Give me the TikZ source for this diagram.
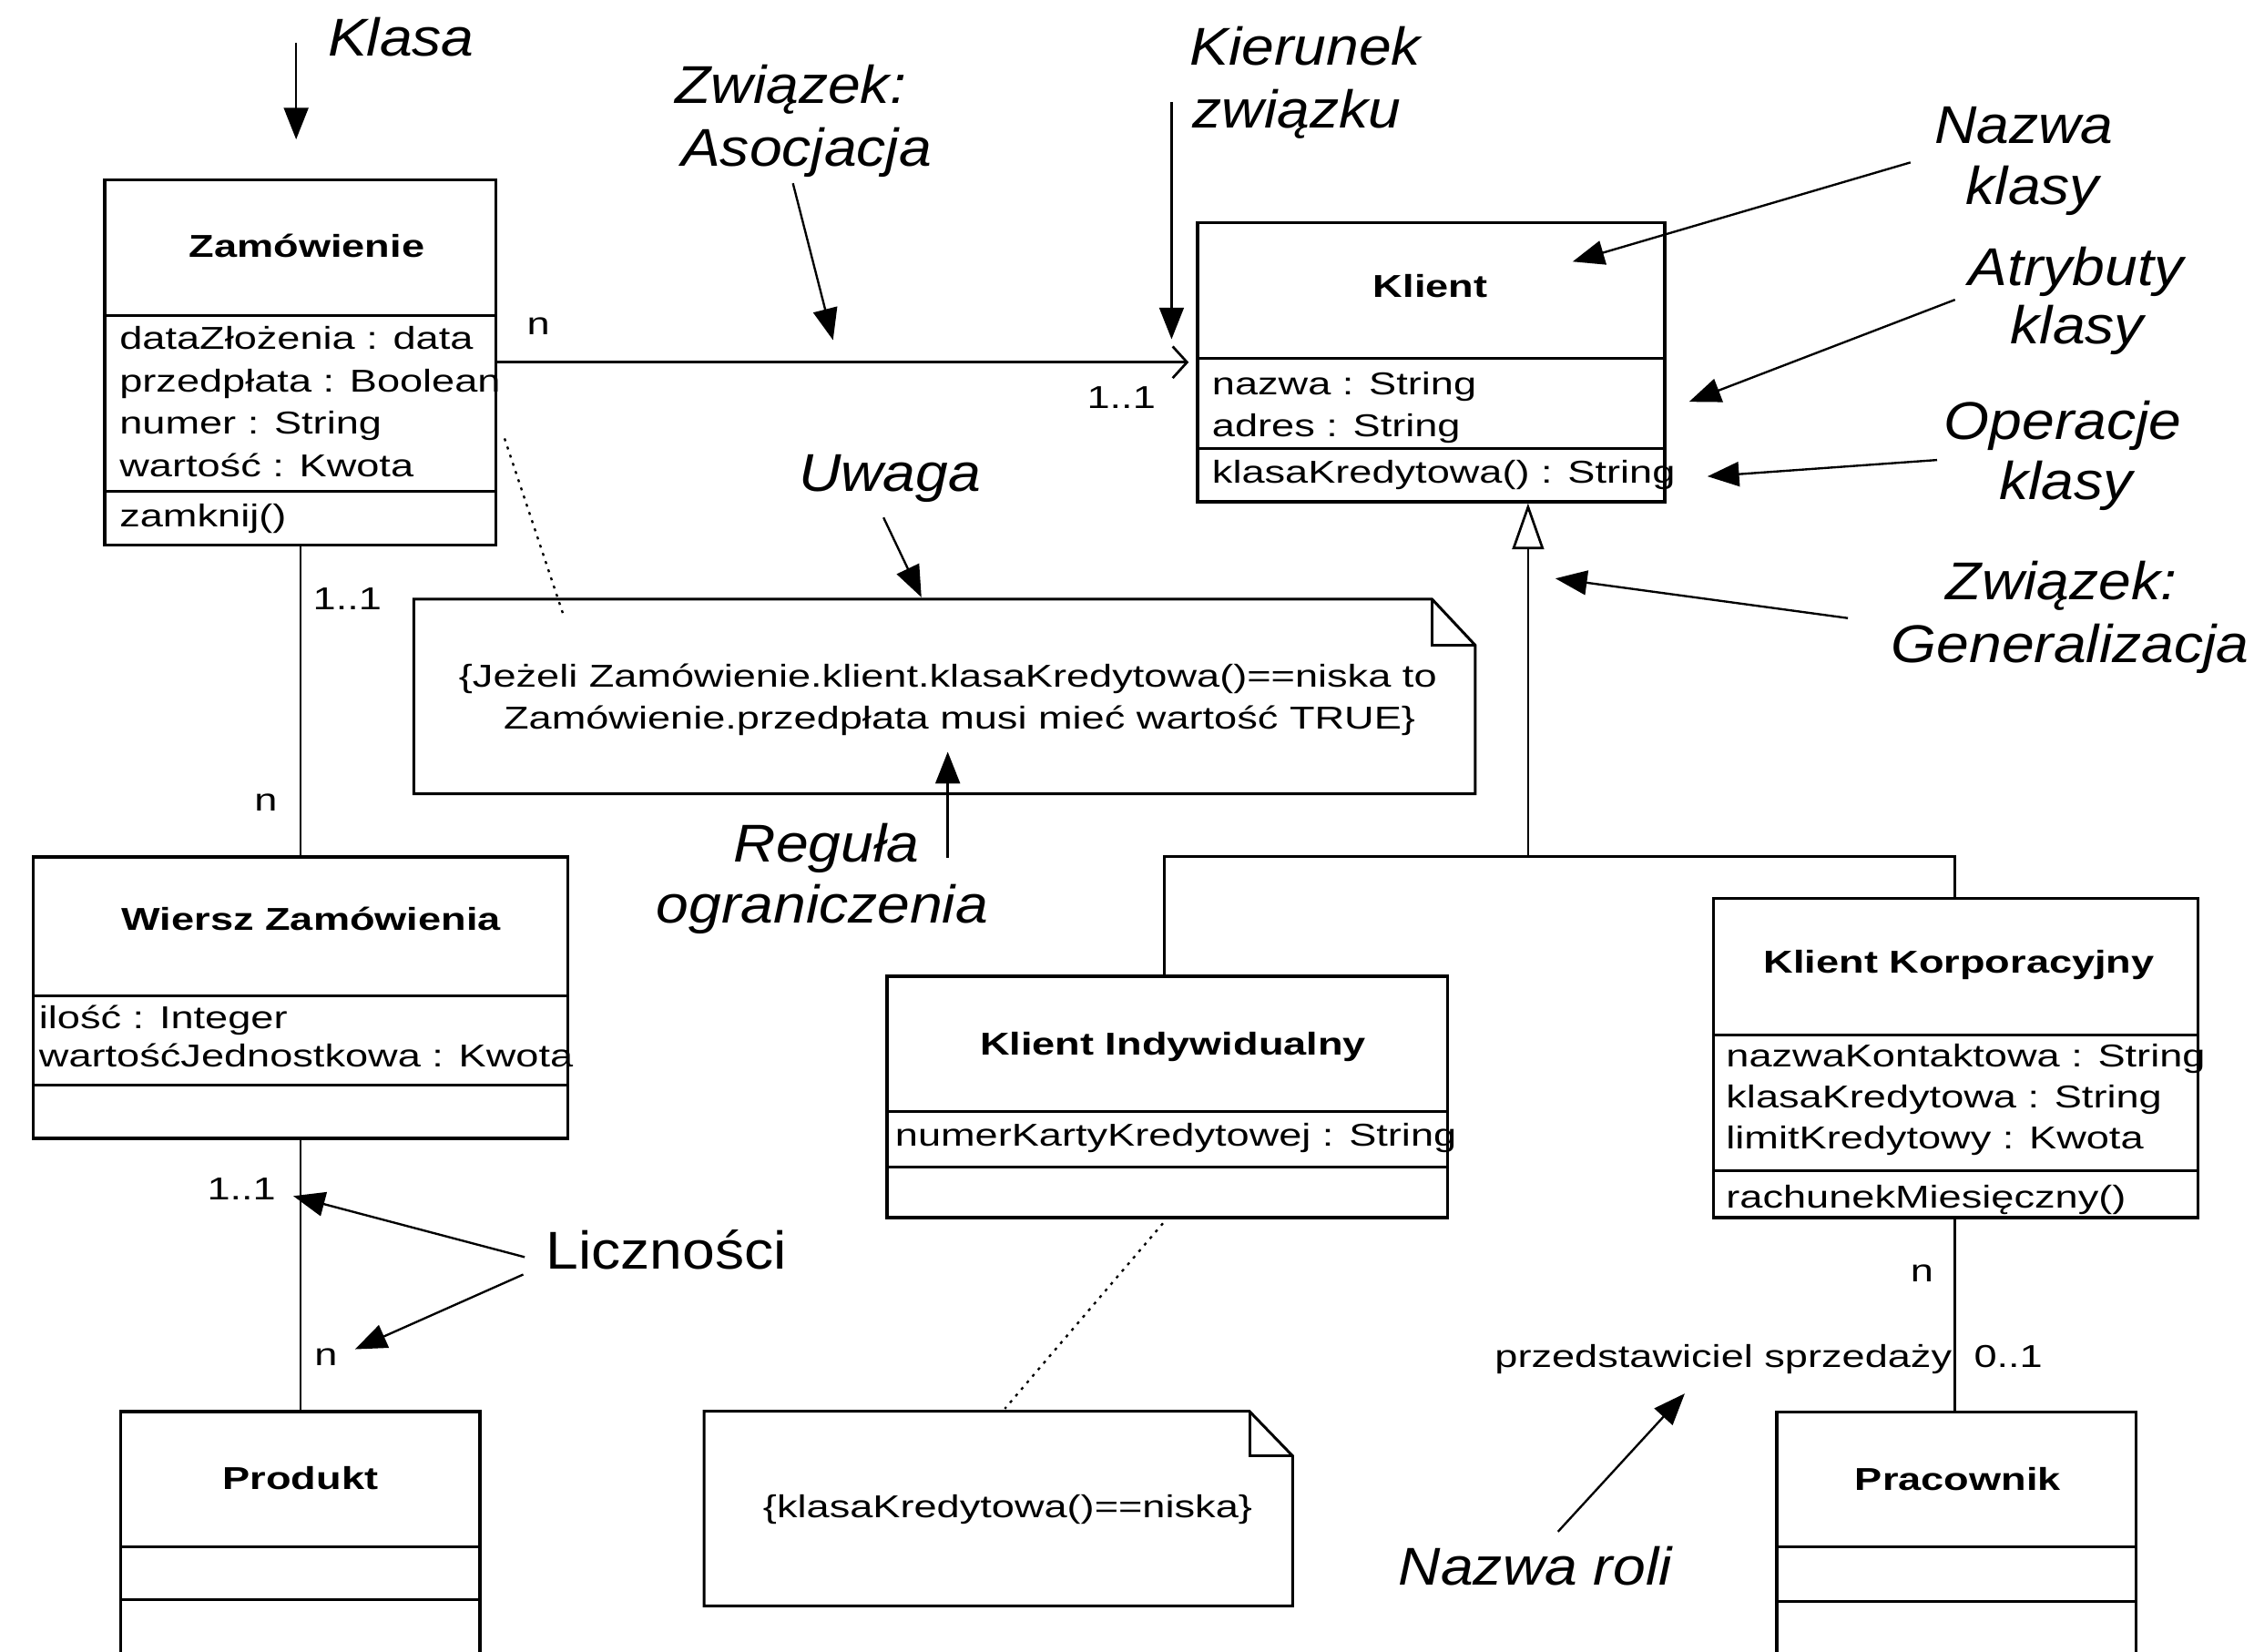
\documentclass[tikz,border=0pt]{standalone}
\usepackage{fontspec}
\setmainfont{Liberation Sans}
\newfontfamily\smallfam[FakeStretch=1.3]{Liberation Sans}
\newfontfamily\annfam[FakeStretch=1.1]{Liberation Sans}
\newcommand{\attrfont}{\smallfam\fontsize{22}{29.5}\selectfont}
\newcommand{\namefont}{\smallfam\bfseries\fontsize{22}{29.5}\selectfont}
\newcommand{\annfont}{\annfam\itshape\fontsize{37}{44}\selectfont}
\newcommand{\liczfont}{\annfam\fontsize{37}{44}\selectfont}
\usetikzlibrary{arrows.meta}
\tikzset{
  umlbox/.style={draw, line width=2.2pt, inner sep=0pt},
  sepline/.style={line width=1.9pt},
  attr/.style={anchor=base west, inner sep=0pt, font=\attrfont},
  cname/.style={anchor=base, inner sep=0pt, font=\namefont},
  mult/.style={anchor=base, inner sep=0pt, font=\attrfont},
  ann/.style={anchor=base, inner sep=0pt, font=\annfont},
  plain/.style={line width=1.7pt},
  assoc/.style={line width=1.7pt, -{Straight Barb[length=10pt,width=22pt]}, shorten >=5pt},
  gen/.style={line width=1.7pt, -{Triangle[length=32pt,width=22pt,fill=white]}},
  annarrow/.style={line width=1.5pt, -{Triangle[length=22pt,width=17pt]}},
  notedot/.style={line width=1.5pt, dash pattern=on 2pt off 4pt},
  notebox/.style={inner sep=0pt},
  noteline/.style={line width=1.9pt},
}
\begin{document}
\begin{tikzpicture}[x=1pt,y=-1pt]
\clip (0,0) rectangle (1568,1149);
\fill[white] (0,0) rectangle (1568,1149);

% ---------- Zamowienie ----------
\node[umlbox, minimum width=272pt, minimum height=254pt] (zam) at (209,252) {};
\draw[sepline] (73,219.5) -- (345,219.5);
\draw[sepline] (73,341.5) -- (345,341.5);
\node[cname] (zamN) at (213.5,179) {Zamówienie};
\node[attr] (zamA1) at (83,243) {dataZłożenia : data};
\node[attr] (zamA2) at (83,272.5) {przedpłata : Boolean};
\node[attr] (zamA3) at (83,302) {numer : String};
\node[attr] (zamA4) at (83,331.5) {wartość : Kwota};
\node[attr] (zamO1) at (83,366.5) {zamknij()};

% ---------- Klient ----------
\node[umlbox, minimum width=325pt, minimum height=194pt] (kli) at (995.5,252) {};
\draw[sepline] (833,249.6) -- (1158,249.6);
\draw[sepline] (833,311.8) -- (1158,311.8);
\node[cname] (kliN) at (995,207) {Klient};
\node[attr] (kliA1) at (843,274.8) {nazwa : String};
\node[attr] (kliA2) at (843,304) {adres : String};
\node[attr] (kliO1) at (843,336) {klasaKredytowa() : String};

% ---------- Wiersz Zamowienia ----------
\node[umlbox, minimum width=372pt, minimum height=196pt] (wz) at (209,694) {};
\draw[sepline] (23,692.6) -- (395,692.6);
\draw[sepline] (23,755) -- (395,755);
\node[cname] (wzN) at (216.5,647.4) {Wiersz Zamówienia};
\node[attr] (wzA1) at (27,715.4) {ilość : Integer};
\node[attr] (wzA2) at (27,742) {wartośćJednostkowa : Kwota};

% ---------- Produkt ----------
\node[umlbox, minimum width=250pt, minimum height=180pt] (prod) at (209,1072) {};
\draw[sepline] (84,1076) -- (334,1076);
\draw[sepline] (84,1113) -- (334,1113);
\node[cname] (prodN) at (209,1036.4) {Produkt};

% ---------- Klient Indywidualny ----------
\node[umlbox, minimum width=390pt, minimum height=168pt] (ki) at (812,763) {};
\draw[sepline] (617,773) -- (1007,773);
\draw[sepline] (617,812) -- (1007,812);
\node[cname] (kiN) at (816,734) {Klient Indywidualny};
\node[attr] (kiA1) at (622.5,797.4) {numerKartyKredytowej : String};

% ---------- Klient Korporacyjny ----------
\node[umlbox, minimum width=337pt, minimum height=222pt] (kk) at (1360.5,736) {};
\draw[sepline] (1192,720) -- (1529,720);
\draw[sepline] (1192,814.5) -- (1529,814.5);
\node[cname] (kkN) at (1362.8,676.7) {Klient Korporacyjny};
\node[attr] (kkA1) at (1200.6,742) {nazwaKontaktowa : String};
\node[attr] (kkA2) at (1200.6,770.8) {klasaKredytowa : String};
\node[attr] (kkA3) at (1200.6,799.5) {limitKredytowy : Kwota};
\node[attr] (kkO1) at (1200.6,840.4) {rachunekMiesięczny()};

% ---------- Pracownik ----------
\node[umlbox, minimum width=250pt, minimum height=180pt] (prac) at (1361,1072.4) {};
\draw[sepline] (1236,1076) -- (1486,1076);
\draw[sepline] (1236,1114) -- (1486,1114);
\node[cname] (pracN) at (1362,1037) {Pracownik};

% ---------- Note 1 ----------
\node[notebox, minimum width=738pt, minimum height=135pt] (note1) at (657,484.5) {};
\draw[noteline] (note1.north west) -- ([xshift=-30pt]note1.north east)
  -- ([yshift=-32pt]note1.north east) -- (note1.south east) -- (note1.south west) -- cycle;
\draw[noteline] ([xshift=-30pt]note1.north east) -- ([xshift=-30pt,yshift=-32pt]note1.north east)
  -- ([yshift=-32pt]note1.north east);
\node[mult] (note1L1) at (659.4,477.7) {\{Jeżeli Zamówienie.klient.klasaKredytowa()==niska to};
\node[mult] (note1L2) at (667.5,507.4) {Zamówienie.przedpłata musi mieć wartość TRUE\}};

% ---------- Note 2 ----------
\node[notebox, minimum width=409pt, minimum height=135pt] (note2) at (694.5,1049.5) {};
\draw[noteline] (note2.north west) -- ([xshift=-30pt]note2.north east)
  -- ([yshift=-31pt]note2.north east) -- (note2.south east) -- (note2.south west) -- cycle;
\draw[noteline] ([xshift=-30pt]note2.north east) -- ([xshift=-30pt,yshift=-31pt]note2.north east)
  -- ([yshift=-31pt]note2.north east);
\node[mult] (note2L1) at (701,1056) {\{klasaKredytowa()==niska\}};

% ---------- Association Zamowienie -> Klient ----------
\draw[assoc] (zam.east) -- (kli.west);
\node[mult] (mAs1) at (374.6,232.7) {n};
\node[mult] (mAs2) at (780,284) {1..1};

% ---------- Zamowienie - Wiersz - Produkt ----------
\draw[plain] (zam.south) -- (wz.north);
\node[mult] (mZW1) at (241.6,424) {1..1};
\node[mult] (mZW2) at (185,564) {n};
\draw[plain] (wz.south) -- (prod.north);
\node[mult] (mWP1) at (168,834.5) {1..1};
\node[mult] (mWP2) at (226.7,950) {n};

% ---------- Generalization ----------
\coordinate (gj) at (1063,596);
\coordinate (gL) at (810,596);
\coordinate (gR) at (1360,596);
\draw[plain] (ki.north -| gL) -- (gL) -- (gR) -- (kk.north -| gR);
\draw[gen] (gj) -- (kli.south -| gj);

% ---------- Klient Korporacyjny - Pracownik ----------
\draw[plain] (kk.south -| gR) -- (prac.north -| gR);
\node[mult] (mKP1) at (1337,891.5) {n};
\node[mult, anchor=base east] (role) at (1358,951) {przedstawiciel sprzedaży};
\node[mult, anchor=base west] (mKP2) at (1373,951) {0..1};

% ---------- Note links ----------
\coordinate (d1a) at (351,305);
\coordinate (d1b) at (392,428);
\draw[notedot] (d1a) -- (d1b);
\coordinate (d2a) at (809,851);
\coordinate (d2b) at (699,980);
\draw[notedot] (d2a) -- (d2b);

% ---------- Annotations ----------
\node[ann] (tKlasa) at (279,39) {Klasa};
\coordinate (aK1) at (206,30); \coordinate (aK2) at (206,97);
\draw[annarrow] (aK1) -- (aK2);

\node[ann] (tZw1) at (550,72) {Związek:};
\node[ann] (tZw2) at (561,115.7) {Asocjacja};
\coordinate (aA1) at (551.6,127.5); \coordinate (aA2) at (579.5,236.6);
\draw[annarrow] (aA1) -- (aA2);

\node[ann] (tKi1) at (908,45) {Kierunek};
\node[ann] (tKi2) at (902,89) {związku};
\coordinate (aD1) at (815,71); \coordinate (aD2) at (815,236);
\draw[annarrow] (aD1) -- (aD2);

\node[ann] (tNk1) at (1408,100) {Nazwa};
\node[ann] (tNk2) at (1414,142) {klasy};
\coordinate (aN1) at (1329,113); \coordinate (aN2) at (1094,182);
\draw[annarrow] (aN1) -- (aN2);

\node[ann] (tAk1) at (1444,198.8) {Atrybuty};
\node[ann] (tAk2) at (1445,239) {klasy};
\coordinate (aT1) at (1360,208.5); \coordinate (aT2) at (1175,279.5);
\draw[annarrow] (aT1) -- (aT2);

\node[ann] (tOk1) at (1435,305.5) {Operacje};
\node[ann] (tOk2) at (1437,347.5) {klasy};
\coordinate (aO1) at (1347.5,320); \coordinate (aO2) at (1187.8,331.4);
\draw[annarrow] (aO1) -- (aO2);

\node[ann] (tZg1) at (1434,417) {Związek:};
\node[ann] (tZg2) at (1440,460.7) {Generalizacja};
\coordinate (aG1) at (1285.5,430); \coordinate (aG2) at (1082,402.4);
\draw[annarrow] (aG1) -- (aG2);

\node[ann] (tUw) at (619,341.8) {Uwaga};
\coordinate (aU1) at (614.6,360); \coordinate (aU2) at (641,415.5);
\draw[annarrow] (aU1) -- (aU2);

\node[ann] (tRg1) at (575,599.4) {Reguła};
\node[ann] (tRg2) at (572,641.8) {ograniczenia};
\coordinate (aR1) at (659.3,596.5); \coordinate (aR2) at (659.3,523);
\draw[annarrow] (aR1) -- (aR2);

\node[anchor=base, inner sep=0pt, font=\liczfont] (tLi) at (463.5,883) {Liczności};
\coordinate (aL1) at (365,874.5); \coordinate (aL2) at (204,832);
\coordinate (aL3) at (364,886.6); \coordinate (aL4) at (247,938.6);
\draw[annarrow] (aL1) -- (aL2);
\draw[annarrow] (aL3) -- (aL4);

\node[ann] (tNr) at (1068,1102.4) {Nazwa roli};
\coordinate (aNr1) at (1083.8,1065.5); \coordinate (aNr2) at (1172,969.4);
\draw[annarrow] (aNr1) -- (aNr2);
\end{tikzpicture}
\end{document}
